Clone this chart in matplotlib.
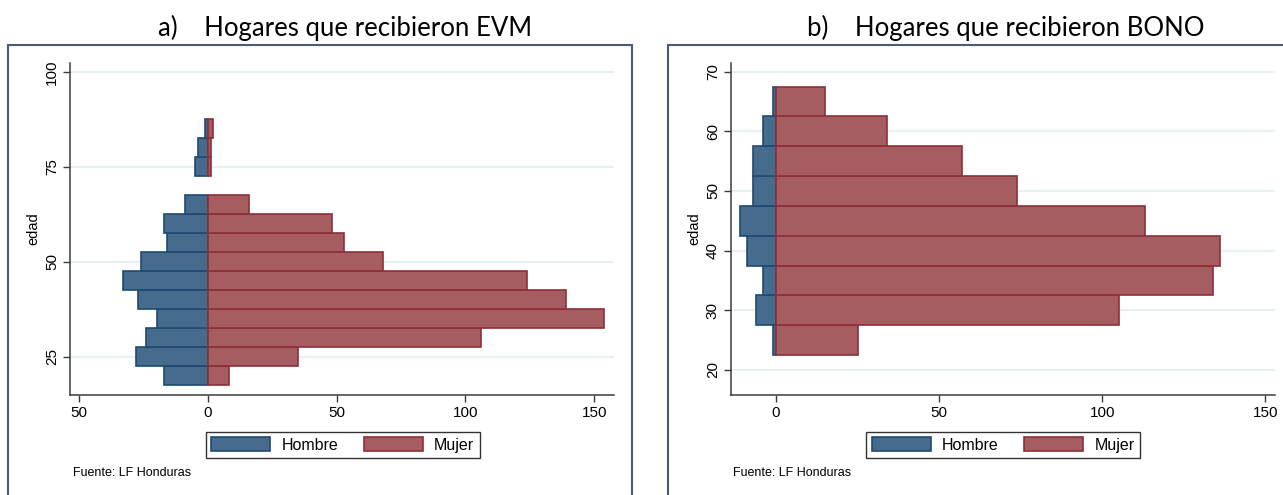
import matplotlib
matplotlib.use("Agg")
import matplotlib.pyplot as plt
from matplotlib.patches import Rectangle, Patch

# edades (centro de cada grupo de 5 años)
edad_evm = [20, 25, 30, 35, 40, 45, 50, 55, 60, 65, 75, 80, 85]
hombre_evm = [17, 28, 24, 20, 27, 33, 26, 16, 17, 9, 5, 4, 1]
mujer_evm = [8, 35, 106, 154, 139, 124, 68, 53, 48, 16, 1, 1, 2]

edad_bono = [25, 30, 35, 40, 45, 50, 55, 60, 65]
hombre_bono = [1, 6, 4, 9, 11, 7, 7, 4, 1]
mujer_bono = [25, 105, 134, 136, 113, 74, 57, 34, 15]

titulos = ["a)    Hogares que recibieron EVM", "b)    Hogares que recibieron BONO"]

col_h, edge_h = "#476b8d", "#1f4a73"
col_m, edge_m = "#a65d61", "#8e2f38"
W, H = 1283, 495

fig = plt.figure(figsize=(W / 100, H / 100), dpi=100)
plt.rcParams['font.family'] = ['Liberation Sans', 'DejaVu Sans']


def px_ax(left, right, top, bottom):
    return fig.add_axes([left / W, 1 - bottom / H, (right - left) / W, (bottom - top) / H])


def pyramid(ax, edad, hombre, mujer, xlim, ylim, xticks, xlabels, yticks):
    ax.barh(edad, [-h for h in hombre], height=5, color=col_h, edgecolor=edge_h, linewidth=1.2, zorder=3)
    ax.barh(edad, mujer, height=5, color=col_m, edgecolor=edge_m, linewidth=1.2, zorder=3)
    ax.set_xlim(*xlim)
    ax.set_ylim(*ylim)
    ax.set_xticks(xticks)
    ax.set_xticklabels(xlabels)
    ax.set_yticks(yticks)
    for y in yticks:
        ax.axhline(y, color="#e8f0f2", linewidth=1.6, zorder=1)
    for s in ["top", "right"]:
        ax.spines[s].set_visible(False)
    for s in ["left", "bottom"]:
        ax.spines[s].set_color("#3c3c3c")
        ax.spines[s].set_linewidth(1.1)
    ax.tick_params(axis="both", direction="out", length=5, width=1, color="#3c3c3c",
                   labelsize=11, pad=3)
    ax.tick_params(axis="y", labelrotation=90)
    for t in ax.get_yticklabels():
        t.set_va("center")
    ax.set_ylabel("edad", fontsize=10.5, labelpad=3)
    ax.patch.set_alpha(0)


ax1 = px_ax(70, 614, 62.7, 395)
pyramid(ax1, edad_evm, hombre_evm, mujer_evm, (-53.6, 157.7), (14.9, 102.4),
        [-50, 0, 50, 100, 150], ["50", "0", "50", "100", "150"], [25, 50, 75, 100])

ax2 = px_ax(731, 1274.5, 62.7, 395)
pyramid(ax2, edad_bono, hombre_bono, mujer_bono, (-13.8, 152.8), (15.8, 71.5),
        [0, 50, 100, 150], ["0", "50", "100", "150"], [20, 30, 40, 50, 60, 70])

handles = [Patch(facecolor=col_h, edgecolor=edge_h, linewidth=1.2, label="Hombre"),
           Patch(facecolor=col_m, edgecolor=edge_m, linewidth=1.2, label="Mujer")]

for cx, tx, title in [(342.7, 345, titulos[0]), (1003, 1006, titulos[1])]:
    leg = fig.legend(handles=handles, loc="center", bbox_to_anchor=(cx / W, 1 - 445 / H),
                     ncol=2, fontsize=11.5, frameon=True, fancybox=False, edgecolor="black",
                     handlelength=3.7, handleheight=1.0, handletextpad=0.7,
                     columnspacing=1.6, borderpad=0.35, borderaxespad=0)
    leg.get_frame().set_linewidth(1.0)
    fig.text(tx / W, 1 - 28 / H, title, fontsize=18.5, family=["Lato", "DejaVu Sans"],
             ha="center", va="center", color="black")

fig.text(73 / W, 1 - 473 / H, "Fuente: LF Honduras", fontsize=9, va="center")
fig.text(733 / W, 1 - 473 / H, "Fuente: LF Honduras", fontsize=9, va="center")

# marcos de cada panel
for x0, x1 in [(8, 632), (668, 1290)]:
    fig.add_artist(Rectangle((x0 / W, -0.05), (x1 - x0) / W, 1.05 - 44.7 / H,
                             transform=fig.transFigure, fill=False,
                             edgecolor="#4a5a78", linewidth=1.5))

fig.savefig("out.png", dpi=100)
